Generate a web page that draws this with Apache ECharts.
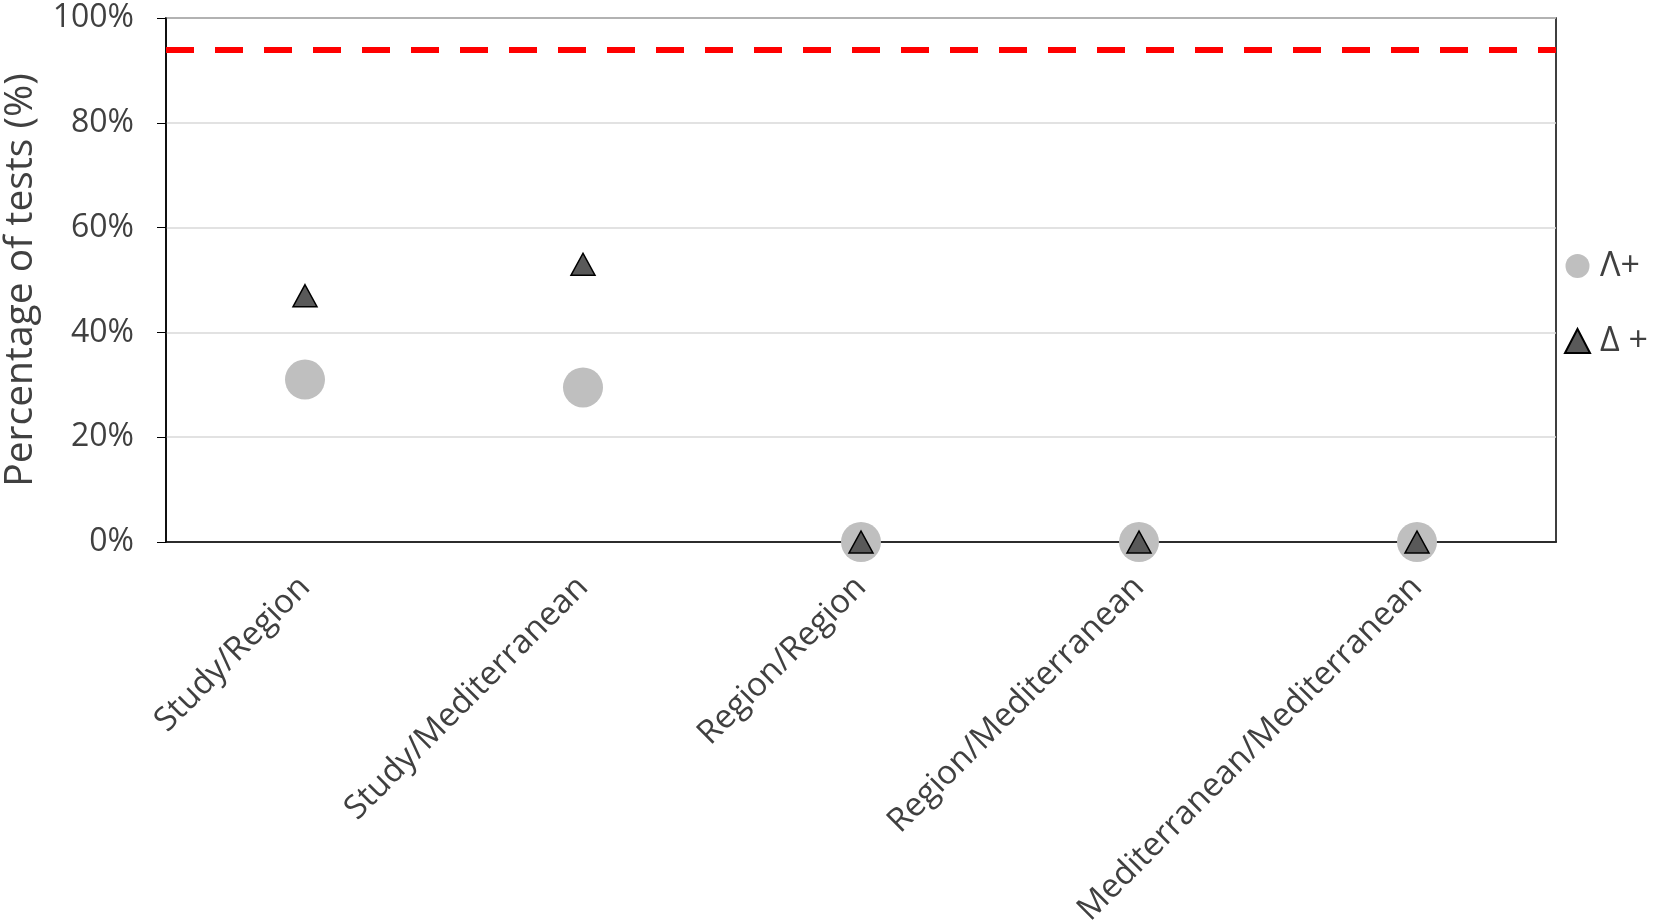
<!DOCTYPE html>
<html>
<head>
<meta charset="utf-8">
<script src="https://cdn.jsdelivr.net/npm/echarts@6/dist/echarts.min.js"></script>
<style>
  html, body { margin: 0; padding: 0; background: #fff; }
  #chart { width: 1658px; height: 922px; }
</style>
</head>
<body>
<div id="chart"></div>
<script>
const categories = ['Study/Region', 'Study/Mediterranean', 'Region/Region', 'Region/Mediterranean', 'Mediterranean/Mediterranean'];
const lambdaPlus = [31, 29.5, 0, 0, 0];
const deltaPlus = [47, 53, 0, 0, 0];
const threshold = 94;
const yTicks = [0, 20, 40, 60, 80, 100];

const chart = echarts.init(document.getElementById('chart'));
const font = 'Open Sans';

chart.setOption({
  animation: false,
  grid: {
    left: 166, right: 102, top: 18, bottom: 380,
    outerBoundsMode: 'none',
    containLabel: false,
    show: true, borderColor: '#000', borderWidth: 1.5
  },
  legend: {
    orient: 'vertical',
    left: 1559,
    top: 244,
    itemGap: 41,
    itemWidth: 25,
    itemHeight: 24,
    textStyle: { fontFamily: font, fontSize: 34, color: '#404040', padding: [0, 0, 0, 5] },
    data: [
      { name: 'Λ+', icon: 'circle' },
      { name: 'Δ +', icon: 'triangle' }
    ]
  },
  xAxis: {
    type: 'category',
    data: categories,
    axisLine: { lineStyle: { color: '#000', width: 1.5 } },
    axisTick: { show: false },
    axisLabel: {
      rotate: 45,
      margin: 40,
      interval: 0,
      fontFamily: font,
      fontSize: 33,
      color: '#404040'
    }
  },
  yAxis: {
    type: 'value',
    min: yTicks[0],
    max: yTicks[yTicks.length - 1],
    interval: 20,
    name: 'Percentage of tests (%)',
    nameLocation: 'middle',
    nameRotate: 90,
    nameGap: 126,
    nameTextStyle: { fontFamily: font, fontSize: 39, color: '#404040' },
    axisLine: { show: true, lineStyle: { color: '#000', width: 1.5 } },
    axisTick: { show: true, length: 9, lineStyle: { color: '#000' } },
    axisLabel: {
      formatter: '{value}%',
      margin: 32,
      fontFamily: font,
      fontSize: 32,
      color: '#404040'
    },
    splitLine: { lineStyle: { color: '#d9d9d9', width: 1.5 } }
  },
  series: [
    {
      name: 'Λ+',
      type: 'scatter',
      data: lambdaPlus,
      symbol: 'circle',
      symbolSize: 40,
      itemStyle: { color: '#bfbfbf', opacity: 1 },
      markLine: {
        silent: true,
        symbol: 'none',
        label: { show: false },
        lineStyle: { color: '#ff0000', width: 6, type: [28, 21] },
        data: [{ yAxis: threshold }]
      },
      z: 2
    },
    {
      name: 'Δ +',
      type: 'scatter',
      data: deltaPlus,
      symbol: 'triangle',
      symbolSize: [24, 22],
      itemStyle: { color: '#595959', borderColor: '#000', borderWidth: 1.5, opacity: 1 },
      z: 3
    }
  ]
});
</script>
</body>
</html>
